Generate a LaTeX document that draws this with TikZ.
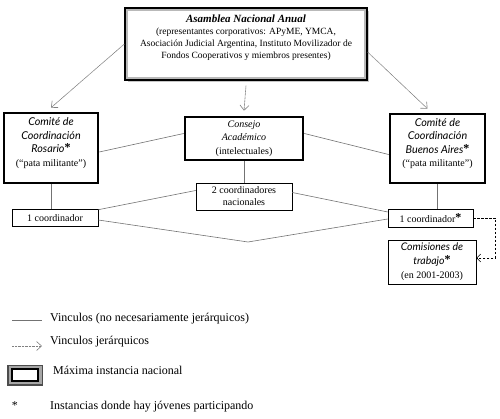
\documentclass[tikz,border=0pt]{standalone}
\usepackage{fontspec}
\setmainfont{Liberation Serif}
\newfontfamily\hum{Lato}
\usetikzlibrary{arrows.meta}
\newcommand{\jstar}{\raisebox{1pt}{\fontsize{12}{12}\selectfont\rmfamily\bfseries *}}
\begin{document}
\begin{tikzpicture}[x=1pt,y=-1pt,
  thickbox/.style={draw=black, line width=2.6pt, fill=white, inner sep=0pt},
  thinbox/.style={draw=black, line width=0.6pt, fill=white, align=center, inner sep=0pt},
  txt/.style={align=center, inner sep=0pt},
  link/.style={draw=black!55, line width=0.6pt},
  hier/.style={draw=black!50, line width=0.6pt, dash pattern=on 1pt off 0.4pt, -{Straight Barb[length=5pt,width=9pt]}},
  dlink/.style={draw=black, line width=0.6pt, dash pattern=on 2.5pt off 1.5pt, -{Straight Barb[length=4pt,width=8pt]}},
  legtext/.style={anchor=west, font=\fontsize{12}{14}\selectfont, inner sep=0pt}]
\useasboundingbox (0,0) rectangle (500,419);

% top box
\fill[gray!45] (128,11) rectangle (369,82);
\node[thickbox, line width=3.2pt, minimum width=240pt, minimum height=70pt] (asamblea) at (246,44) {};
\draw[gray!55, line width=1.2pt] ([shift={(2.6pt,-2.6pt)}]asamblea.north west) rectangle ([shift={(-2.6pt,2.6pt)}]asamblea.south east);
\node[txt, font=\fontsize{9.5}{12}\selectfont] (asamblea-t) at (246,38)
 {{\fontsize{11}{12}\selectfont\bfseries\itshape Asamblea Nacional Anual}\\
  (representantes corporativos: APyME, YMCA,\\
  Asociación Judicial Argentina, Instituto Movilizador de\\
  Fondos Cooperativos y miembros presentes)};

% second row
\node[thickbox, minimum width=94pt, minimum height=70pt] (rosario) at (51,148) {};
\node[txt, font=\fontsize{10}{13.4}\selectfont] (rosario-t) at (51,143)
 {{\hum\itshape\fontsize{10.8}{13.4}\selectfont Comité de}\\{\hum\itshape\fontsize{10.8}{13.4}\selectfont Coordinación}\\{\hum\itshape\fontsize{10.8}{13.4}\selectfont Rosario}\jstar\\(“pata militante”)};

\node[thickbox, minimum width=118pt, minimum height=43pt, align=center, font=\fontsize{10}{13.5}\selectfont] (consejo) at (244,138.5)
 {\itshape Consejo\\\itshape Académico\\(intelectuales)};

\node[thickbox, minimum width=95pt, minimum height=69pt] (buenos) at (437.5,148.5) {};
\node[txt, font=\fontsize{10}{13.4}\selectfont] (buenos-t) at (437.5,143.5)
 {{\hum\itshape\fontsize{10.8}{13.4}\selectfont Comité de}\\{\hum\itshape\fontsize{10.8}{13.4}\selectfont Coordinación}\\{\hum\itshape\fontsize{10.8}{13.4}\selectfont Buenos Aires}\jstar\\(“pata militante”)};

% third row
\node[thinbox, minimum width=96pt, minimum height=27pt, font=\fontsize{10}{12}\selectfont] (dosc) at (244,196.5)
 {2 coordinadores\\nacionales};
\node[thinbox, minimum width=86pt, minimum height=17pt, font=\fontsize{10}{12}\selectfont] (coordL) at (55,218) {1 coordinador};
\node[thinbox, minimum width=85pt, minimum height=18pt, font=\fontsize{10}{12}\selectfont] (coordR) at (430.5,218) {1 coordinador\jstar};
\node[thinbox, minimum width=88pt, minimum height=44pt, font=\fontsize{10}{14}\selectfont] (comis) at (432,262)
 {{\hum\itshape\fontsize{10.5}{14}\selectfont Comisiones de}\\{\hum\itshape\fontsize{10.5}{14}\selectfont trabajo}\jstar\\(en 2001-2003)};

% hierarchical arrows
\draw[hier] (asamblea.west) -- ([yshift=4pt]rosario.north);
\draw[hier] ([yshift=-5pt]asamblea.south) -- ([yshift=5pt]consejo.north);
\draw[hier] ([yshift=-8pt]asamblea.east) -- ([xshift=-10pt,yshift=4pt]buenos.north);

% links
\draw[link] ([yshift=-4pt]rosario.east) -- ([yshift=5pt]consejo.west);
\draw[link] ([yshift=5pt]consejo.east) -- ([yshift=-6pt]buenos.west);
\draw[link] (consejo.south) -- (dosc.north);
\draw[link] (rosario.south) -- (rosario.south |- coordL.north);
\draw[link] (buenos.south) -- (buenos.south |- coordR.north);
\draw[link] ([yshift=-0.5pt]coordL.north east) -- ([yshift=6pt]dosc.west);
\draw[link] ([yshift=4pt]dosc.east) -- ([yshift=6pt]coordR.west);
\coordinate (apex) at (248,242);
\draw[link] ([yshift=-2pt]coordL.east) -- (apex) -- ([yshift=-1pt]coordR.west);
\draw[dlink] (coordR.east) -- ++(22,0) |- ([yshift=4pt]comis.east);

% legend
\coordinate (l1a) at (12,320); \coordinate (l1b) at (42,320);
\draw[link] (l1a) -- (l1b);
\node[legtext] (leg1) at (50,319) {Vinculos (no necesariamente jerárquicos)};
\coordinate (l2a) at (12,346); \coordinate (l2b) at (42,346);
\draw[hier] (l2a) -- (l2b);
\node[legtext] (leg2) at (50,342) {Vinculos jerárquicos};
\fill[black!70] (7,365) rectangle (43,386);
\fill[black!35] (9,366) rectangle (42,384);
\draw[black, line width=1.2pt, fill=white] (12,369) rectangle (38,381);
\node[legtext] (leg3) at (53,370) {Máxima instancia nacional};
\node[anchor=center, inner sep=0pt, font=\fontsize{12}{13}\selectfont] (leg4s) at (15,406) {*};
\node[legtext] (leg4) at (50,407) {Instancias donde hay jóvenes participando};
\end{tikzpicture}
\end{document}
